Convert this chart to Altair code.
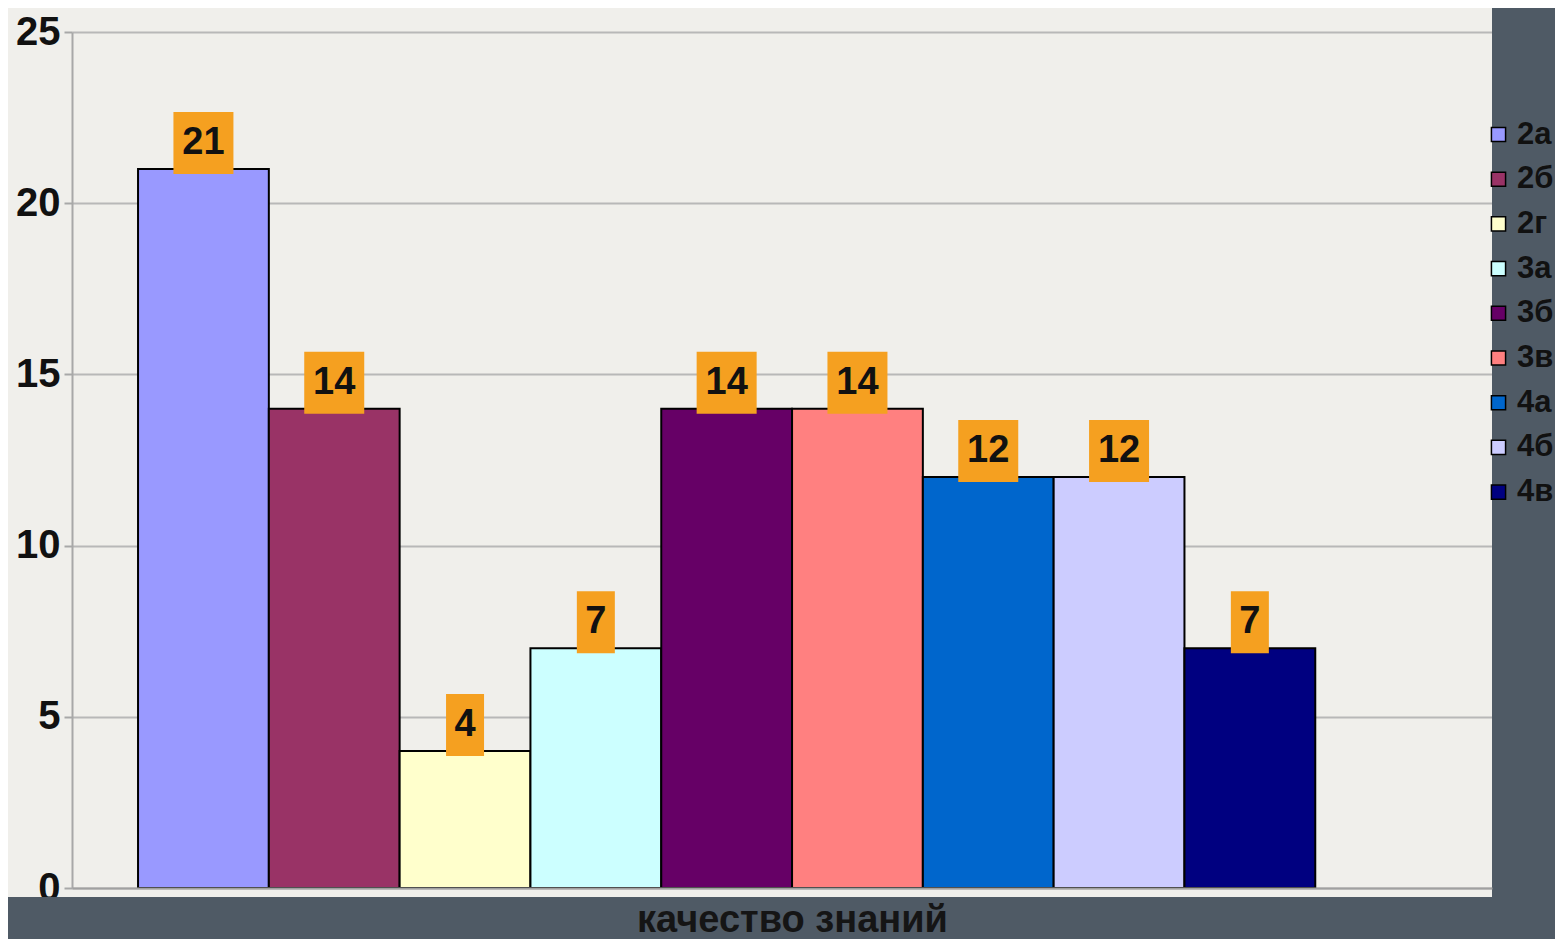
import altair as alt
import pandas as pd

classes = ["2а", "2б", "2г", "3а", "3б", "3в", "4а", "4б", "4в"]
values = [21, 14, 4, 7, 14, 14, 12, 12, 7]
colors = ["#9999ff", "#993366", "#ffffcc", "#ccffff", "#660066",
          "#ff8080", "#0066cc", "#ccccff", "#000080"]
y_ticks = [0, 5, 10, 15, 20, 25]
x_title = "качество знаний"

df = pd.DataFrame({"cls": classes, "value": values})

PANEL = "#f0efeb"
DARK = "#4f5a65"
W, H = 1420, 856

x_enc = alt.X("cls:N", sort=classes,
              scale=alt.Scale(paddingInner=0, paddingOuter=0.928, align=0.272),
              axis=alt.Axis(labels=False, ticks=False, domain=True,
                            domainColor="#a0a0a0", domainWidth=2,
                            title=x_title, titleFontSize=38,
                            titleFont="Liberation Sans",
                            titleFontWeight="bold", titleColor="#151515",
                            titlePadding=13, titleX=720, zindex=1))
y_enc = alt.Y("value:Q", scale=alt.Scale(domain=[0, 25], nice=False),
              axis=alt.Axis(values=y_ticks, title=None, labelFontSize=40,
                            labelFont="Liberation Sans", labelFontWeight="bold",
                            labelColor="#111111", tickSize=8, tickColor="#a8a8a8",
                            tickWidth=2, domainColor="#a8a8a8", domainWidth=2,
                            gridColor="#b8b8b8", gridWidth=2, labelPadding=4))

one = pd.DataFrame({"k": [0]})
dark_right = alt.Chart(one).mark_rect(color=DARK).encode(
    x=alt.value(W), x2=alt.value(W + 200), y=alt.value(-40), y2=alt.value(H + 200))
dark_bottom = alt.Chart(one).mark_rect(color=DARK).encode(
    x=alt.value(-80), x2=alt.value(W + 200), y=alt.value(865), y2=alt.value(H + 200))

base = alt.Chart(df)
bars = base.mark_bar(stroke="black", strokeWidth=2).encode(
    x=x_enc, y=y_enc,
    color=alt.Color("cls:N", sort=classes,
                    scale=alt.Scale(domain=classes, range=colors),
                    legend=alt.Legend(title=None, orient="none", legendX=1411, legendY=87,
                                      symbolType="square", symbolSize=200,
                                      symbolStrokeColor="black", symbolStrokeWidth=1.5,
                                      labelFontSize=31, labelFont="Liberation Sans",
                                      labelFontWeight="bold", labelColor="#111111",
                                      rowPadding=12.7, labelOffset=3, zindex=1)))
boxes = base.mark_bar(color="#f5a020", yOffset=-57, y2Offset=5).transform_calculate(
    bw="length(toString(datum.value)) * 22 + 16"
).encode(x=alt.X("cls:N", sort=classes), y="value:Q", y2="value:Q",
         size=alt.Size("bw:Q", scale=None, legend=None))
labels = base.mark_text(fontSize=38, font="Liberation Sans", fontWeight="bold",
                        color="#111111", dy=-26, baseline="middle").encode(
    x=alt.X("cls:N", sort=classes), y="value:Q", text="value:Q")

chart = alt.layer(dark_right, dark_bottom, bars, boxes, labels).properties(
    width=W, height=H, background=PANEL,
    autosize=alt.AutoSizeParams(type="none"),
    padding={"left": 64, "top": 24, "right": 63, "bottom": 51},
).configure_view(stroke=None)

chart.save("out.html", embed_options={"renderer": "svg", "actions": False})
